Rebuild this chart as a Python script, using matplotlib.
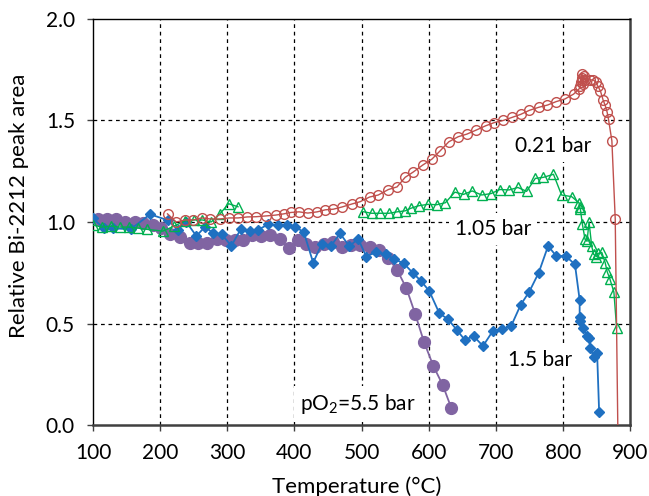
import numpy as np
import matplotlib
matplotlib.use("Agg")
import matplotlib.pyplot as plt

plt.rcParams['font.family'] = ['Lato', 'DejaVu Sans']
plt.rcParams['mathtext.fontset'] = 'custom'
plt.rcParams['mathtext.rm'] = 'Lato'

# 0.21 bar (red open circles)
t_021 = [211, 224, 237, 249, 262, 275, 289, 303, 316, 330, 343, 358, 372, 384, 395, 407, 420, 434, 446,
         458, 471, 486, 498, 512, 525, 540, 553, 565, 577, 591, 605, 617, 630, 644, 657, 671, 685, 698,
         711, 724, 737, 750, 764, 777, 790, 803, 816, 824, 826, 827, 828, 828, 829, 830, 831, 833, 840,
         845, 849, 852, 856, 860, 863, 866, 868, 873, 878, 882]
v_021 = [1.04, 1.00, 1.01, 1.01, 1.02, 1.015, 1.015, 1.02, 1.02, 1.025, 1.026, 1.03, 1.034, 1.04, 1.047,
         1.05, 1.044, 1.05, 1.06, 1.063, 1.074, 1.089, 1.10, 1.123, 1.133, 1.16, 1.173, 1.22, 1.246, 1.28,
         1.31, 1.35, 1.395, 1.42, 1.433, 1.453, 1.474, 1.49, 1.50, 1.515, 1.53, 1.55, 1.565, 1.576, 1.593,
         1.606, 1.63, 1.655, 1.67, 1.69, 1.71, 1.73, 1.70, 1.68, 1.72, 1.70, 1.70, 1.70, 1.69, 1.67, 1.645,
         1.60, 1.575, 1.54, 1.505, 1.40, 1.015, -0.05]

# 1.05 bar (green open triangles)
t_105 = [100, 113, 127, 140, 153, 167, 180, 204, 221, 237, 250, 263, 276, 289, 302, 316, np.nan,
         502, 515, 528, 541, 553, 565, 573, 585, 599, 612, 625, 639, 652, 665, 679, 693, 706, 720, 733,
         746, 759, 771, 786, 798, 813, 824, 825, 826, 829, 833, 836, 839, 843, 846, 850, 852, 858, 863,
         866, 870, 876, 880]
v_105 = [0.985, 0.975, 0.98, 0.975, 0.975, 0.97, 0.964, 0.955, 0.98, 1.005, 1.01, 1.01, 1.0, 1.04, 1.09,
         1.075, np.nan,
         1.051, 1.043, 1.043, 1.043, 1.05, 1.055, 1.067, 1.08, 1.087, 1.085, 1.095, 1.147, 1.136, 1.153,
         1.133, 1.14, 1.16, 1.158, 1.17, 1.151, 1.215, 1.22, 1.235, 1.133, 1.125, 1.095, 1.075, 1.065,
         0.99, 0.915, 0.905, 1.0, 0.88, 0.84, 0.83, 0.845, 0.85, 0.80, 0.755, 0.72, 0.655, 0.48]

# 1.5 bar (blue filled diamonds)
t_15 = [100, 116, 130, 156, 185, 212, 226, 239, 254, 267, 279, 292, 306, 320, 334, 346, 361, 375, 389,
        401, 414, 428, 441, 454, 468, 482, 495, 507, 522, 536, 549, 563, 576, 589, 601, 616, 629, 642,
        654, 667, 681, 696, 709, 723, 737, 750, 764, 778, 790, 804, 818, 825, 825, 826, 830, 836, 839,
        841, 846, 851, 854]
v_15 = [1.018, 0.969, 0.969, 0.964, 1.038, 1.008, 0.963, 1.0, 0.931, 0.977, 0.944, 0.939, 0.882, 0.964,
        0.957, 0.961, 0.989, 0.983, 0.985, 0.977, 0.95, 0.80, 0.893, 0.88, 0.944, 0.88, 0.918, 0.83,
        0.852, 0.84, 0.817, 0.796, 0.751, 0.708, 0.66, 0.55, 0.521, 0.468, 0.419, 0.438, 0.389, 0.465,
        0.471, 0.488, 0.591, 0.657, 0.75, 0.882, 0.833, 0.833, 0.791, 0.616, 0.53, 0.514, 0.476, 0.438,
        0.427, 0.378, 0.333, 0.356, 0.066]

# pO2 = 5.5 bar (purple filled circles)
t_55 = [108, 121, 135, 148, 162, 175, 189, 202, 215, 229, 244, 257, 270, 284, 298, 311, 324, 337, 350,
        364, 378, 392, 405, 418, 431, 444, 458, 471, 485, 498, 512, 526, 539, 553, 567, 580, 593, 607,
        621, 634]
v_55 = [1.013, 1.013, 1.013, 0.998, 1.0, 0.997, 0.985, 0.97, 0.94, 0.928, 0.898, 0.898, 0.895, 0.915,
        0.911, 0.911, 0.911, 0.936, 0.931, 0.936, 0.915, 0.87, 0.911, 0.89, 0.875, 0.89, 0.90, 0.877,
        0.885, 0.885, 0.875, 0.862, 0.825, 0.764, 0.673, 0.547, 0.41, 0.291, 0.197, 0.082]

labels = ["0.21 bar", "1.05 bar", "1.5 bar", r"pO$_\mathregular{2}$=5.5 bar"]
label_pos = [(785, 1.374), (696, 0.965), (766, 0.32), (494, 0.103)]

x_ticks = [100, 200, 300, 400, 500, 600, 700, 800, 900]
y_ticks = [0.0, 0.5, 1.0, 1.5, 2.0]

fig = plt.figure(figsize=(6.49, 4.96), dpi=100)
ax = fig.add_axes([93/649, 1-425/496, 537/649, 406/496])

ax.plot(t_55, v_55, '-o', color='#8064A2', mfc='#8064A2', mec='#8064A2', ms=8.5, lw=1.3, zorder=3)
ax.plot(t_15, v_15, '-D', color='#1F70C1', mfc='#1F70C1', mec='#1F70C1', ms=5.5, lw=1.3, zorder=4)
ax.plot(t_105, v_105, '-^', color='#00B050', mfc='none', mec='#00B050', ms=7, mew=1.0, lw=1.0, zorder=5)
ax.plot(t_021, v_021, '-o', color='#C0504D', mfc='none', mec='#C0504D', ms=7, mew=1.0, lw=1.0, zorder=6)

ax.set_xlim(100, 900)
ax.set_ylim(0, 2.0)
ax.set_xticks(x_ticks)
ax.set_yticks(y_ticks)
ax.set_yticklabels([f"{v:.1f}" for v in y_ticks])
ax.tick_params(axis='both', direction='out', length=4, width=1, labelsize=15, color='#404040', pad=9)

for x in x_ticks[1:-1]:
    ax.axvline(x, color='black', lw=0.9, ls=(0, (3, 3)), zorder=1)
for y in y_ticks[1:-1]:
    ax.axhline(y, color='black', lw=0.9, ls=(0, (3, 3)), zorder=1)

for s in ['left', 'top']:
    ax.spines[s].set_color('black')
    ax.spines[s].set_linewidth(1.0)
for s in ['bottom', 'right']:
    ax.spines[s].set_color('#404040')
    ax.spines[s].set_linewidth(1.8)

for txt, (x, y) in zip(labels, label_pos):
    ax.text(x, y, txt, fontsize=15, ha='center', va='center', zorder=2,
            bbox=dict(facecolor='white', edgecolor='none', pad=4))

ax.set_xlabel("Temperature (°C)", fontsize=16)
ax.set_ylabel("Relative Bi-2212 peak area", fontsize=16)
ax.xaxis.set_label_coords((357 - 93) / 537, (425 - 476) / 406)
ax.yaxis.set_label_coords((29 - 93) / 537, (425 - 206) / 406)

fig.savefig("out.png", dpi=100)
